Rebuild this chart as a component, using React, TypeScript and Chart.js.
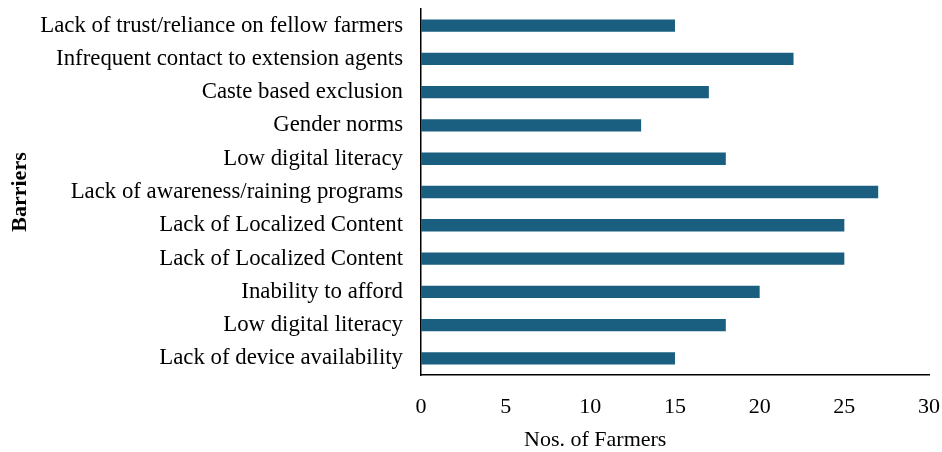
import React, { useEffect, useRef } from "react";
import { Chart, registerables } from "chart.js";

Chart.register(...registerables);

const barriers = [
  "Lack of trust/reliance on fellow farmers",
  "Infrequent contact to extension agents",
  "Caste based exclusion",
  "Gender norms",
  "Low digital literacy",
  "Lack of awareness/raining programs",
  "Lack of Localized Content",
  "Lack of Localized Content",
  "Inability to afford",
  "Low digital literacy",
  "Lack of device availability",
];
const farmers = [15, 22, 17, 13, 18, 27, 25, 25, 20, 18, 15];
const xTicks = [0, 5, 10, 15, 20, 25, 30];
const xTitle = "Nos. of Farmers";
const yTitle = "Barriers";

const FONT = "'Liberation Serif', 'Times New Roman', serif";

export default function App() {
  const ref = useRef<HTMLCanvasElement | null>(null);
  useEffect(() => {
    document.body.style.margin = "0";
    const canvas = ref.current!;
    const titlePlugin = {
      id: "xTitlePlugin",
      afterDraw(chart: any) {
        const { ctx, chartArea } = chart;
        ctx.save();
        ctx.font = `22px ${FONT}`;
        ctx.fillStyle = "#000";
        ctx.textAlign = "center";
        ctx.textBaseline = "middle";
        const x = chartArea.left + (chartArea.right - chartArea.left) * 0.343;
        ctx.fillText(xTitle, x, 440);
        ctx.restore();
      },
    };
    const chart = new Chart(canvas, {
      type: "bar",
      data: {
        labels: barriers,
        datasets: [
          {
            data: farmers,
            backgroundColor: "#1A5E80",
            borderWidth: 0,
            barPercentage: 1,
            categoryPercentage: 0.37,
          },
        ],
      },
      options: {
        indexAxis: "y",
        animation: false,
        responsive: false,
        maintainAspectRatio: false,
        layout: { padding: { top: 9, right: 13, left: 0, bottom: 0 } },
        plugins: {
          legend: { display: false },
          tooltip: { enabled: false },
        },
        scales: {
          x: {
            min: 0,
            max: 30,
            afterBuildTicks: (scale: any) => {
              scale.ticks = xTicks.map((v) => ({ value: v }));
            },
            afterFit: (scale: any) => {
              scale.height = 452 - 375;
              scale.paddingLeft = 0;
              scale.paddingRight = 0;
            },
            grid: { display: false, drawTicks: false },
            border: { display: true, color: "#000", width: 1.5 },
            ticks: {
              padding: 19,
              color: "#000",
              font: { family: FONT, size: 22 },
            },
          },
          y: {
            afterFit: (scale: any) => {
              scale.width = 421;
              scale.paddingTop = 0;
              scale.paddingBottom = 0;
            },
            grid: { display: false, drawTicks: false },
            border: { display: true, color: "#000", width: 1.5 },
            ticks: {
              padding: 18,
              color: "#000",
              autoSkip: false,
              font: { family: FONT, size: 22.8 },
            },
            title: {
              display: true,
              text: yTitle,
              color: "#000",
              padding: { top: 7, bottom: 0 },
              font: { family: FONT, size: 22, weight: "bold" },
            },
          },
        },
      },
      plugins: [titlePlugin],
    });
    return () => chart.destroy();
  }, []);
  return (
    <div style={{ width: 942, height: 452 }}>
      <canvas ref={ref} width={942} height={452} style={{ display: "block" }} />
    </div>
  );
}
